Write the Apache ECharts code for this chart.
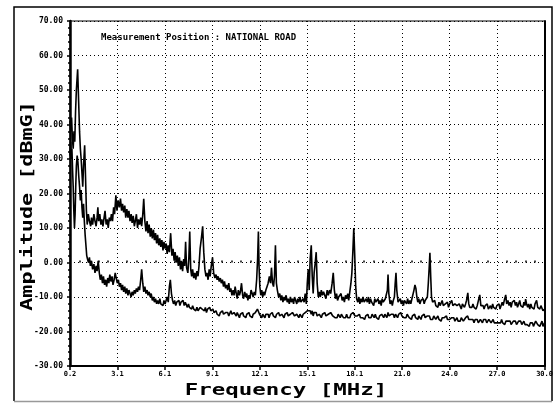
<!DOCTYPE html>
<html>
<head>
<meta charset="utf-8">
<script src="https://cdn.jsdelivr.net/npm/echarts@6/dist/echarts.min.js"></script>
<style>
  html, body { margin: 0; padding: 0; background: #fff; }
  #chart { width: 556px; height: 404px; }
</style>
</head>
<body>
<div id="chart"></div>
<script>
// Frequency axis ticks (MHz) and their printed labels
const xTickValues = [0.2, 3.18, 6.16, 9.14, 12.12, 15.1, 18.08, 21.06, 24.04, 27.02, 30.0];
const xTickLabels = ['0.2', '3.1', '6.1', '9.1', '12.1', '15.1', '18.1', '21.0', '24.0', '27.0', '30.0'];

// Amplitude axis range (dBmG)
const yMin = -30, yMax = 70, yStep = 10;

const titleText = 'Measurement Position : NATIONAL ROAD';
const xName = 'Frequency [MHz]';
const yName = 'Amplitude [dBmG]';

// Upper spectrum trace: [frequency MHz, amplitude dBmG]
const upperTrace = [
  [0.20,41],[0.25,38],[0.30,42],[0.35,36],[0.40,33],[0.45,38],[0.50,35],[0.55,44],[0.60,50],[0.68,56],
  [0.74,47],[0.80,38],[0.85,33],[0.90,30],[0.95,26],[1.00,22],[1.05,28],[1.12,34],[1.18,24],[1.23,15],
  [1.28,11],[1.35,14],[1.42,12],[1.50,10.5],[1.55,13],[1.62,11],[1.70,14],[1.77,12],[1.84,10.5],[1.90,13],
  [1.95,16],[2.00,12],[2.07,14],[2.14,11],[2.20,12.5],[2.27,10.5],[2.34,13],[2.40,15],[2.47,11],[2.54,12.5],
  [2.60,10],[2.67,13],[2.74,12],[2.80,14],[2.87,12],[2.94,16],[3.00,14],[3.08,19.5],[3.15,15],[3.22,18],
  [3.30,16],[3.37,18.5],[3.44,15],[3.50,17],[3.57,14.5],[3.64,16.5],[3.70,13],[3.77,15.5],[3.84,13],[3.90,15],
  [3.97,12],[4.04,14],[4.10,11.5],[4.17,13.5],[4.24,10.5],[4.30,12],[4.37,14],[4.44,10],[4.50,12.5],[4.57,11],
  [4.64,13],[4.70,10.5],[4.77,14],[4.83,18.5],[4.90,12],[4.97,9],[5.04,12],[5.10,8.5],[5.17,11],[5.24,7.5],
  [5.30,10],[5.37,7],[5.44,9.5],[5.50,6.5],[5.57,8.5],[5.64,5.5],[5.70,8],[5.77,5],[5.84,7],[5.90,4.5],
  [5.97,6.5],[6.04,3.5],[6.10,6],[6.17,4],[6.24,5.5],[6.30,2.5],[6.37,5],[6.44,3],[6.52,8.5],[6.60,2],
  [6.67,4],[6.74,0.5],[6.80,3],[6.87,0],[6.94,2],[7.00,-1],[7.07,1.5],[7.14,-2],[7.20,0.5],[7.27,-2.5],
  [7.34,1],[7.40,-1],[7.46,6],[7.52,-1.5],[7.60,-3],[7.66,1],[7.72,9],[7.78,-2],[7.84,-4],[7.90,-2],
  [7.97,-4.5],[8.04,-3],[8.10,-5],[8.17,-2.5],[8.24,-4],[8.30,-1],[8.37,4],[8.45,7],[8.53,10.5],[8.60,3],
  [8.67,-2],[8.74,-4],[8.80,-3],[8.87,-5],[8.94,-2],[9.00,-4],[9.07,-1],[9.15,1.5],[9.22,-3],[9.30,-4.5],
  [9.37,-3.5],[9.44,-5],[9.50,-4],[9.57,-5.5],[9.64,-4.5],[9.70,-6],[9.77,-5],[9.84,-7],[9.90,-5.5],[9.97,-7.5],
  [10.04,-6.5],[10.10,-8],[10.17,-6],[10.24,-8.5],[10.30,-7.5],[10.37,-9.5],[10.44,-8],[10.50,-9.5],[10.57,-7],[10.64,-9],
  [10.70,-10.5],[10.77,-8],[10.84,-9.5],[10.90,-8.5],[10.97,-6],[11.04,-9.5],[11.10,-10.5],[11.17,-8.5],[11.24,-10],[11.30,-9],
  [11.37,-11],[11.44,-9.5],[11.50,-10.5],[11.57,-8],[11.64,-9],[11.70,-10],[11.77,-8.5],[11.84,-9.5],[11.92,-5],[11.98,1],
  [12.03,9],[12.07,-1],[12.12,-7],[12.18,-9.5],[12.24,-8],[12.30,-10],[12.36,-8.5],[12.42,-9.5],[12.50,-8],[12.57,-7],
  [12.64,-6],[12.72,-4],[12.79,-6],[12.85,-1.5],[12.92,-6],[12.98,-7],[13.04,-4],[13.10,5],[13.16,-6],[13.22,-8],
  [13.30,-10],[13.37,-9],[13.44,-11],[13.50,-9.5],[13.57,-11.5],[13.64,-10],[13.70,-11],[13.77,-9.5],[13.84,-11.5],[13.90,-10.5],
  [13.97,-12],[14.04,-10],[14.10,-11.5],[14.17,-10.5],[14.24,-12],[14.30,-10],[14.37,-11],[14.44,-12],[14.50,-10.5],[14.57,-11.5],
  [14.64,-10],[14.70,-11.5],[14.77,-12],[14.84,-10.5],[14.90,-11.5],[14.97,-9],[15.04,-12],[15.10,-6],[15.16,-2],[15.22,-8],
  [15.28,1],[15.35,5],[15.41,-4],[15.47,-9],[15.53,-3],[15.60,0],[15.66,3],[15.72,-6],[15.79,-10],[15.85,-8.5],
  [15.92,-10],[15.98,-8],[16.05,-9.5],[16.12,-8.5],[16.20,-9],[16.27,-10.5],[16.35,-8],[16.42,-9.5],[16.50,-8],[16.57,-9],
  [16.66,-6],[16.73,-3],[16.80,-8],[16.87,-10.5],[16.94,-9],[17.00,-11],[17.07,-10],[17.14,-10.5],[17.22,-9],[17.29,-11],
  [17.36,-10],[17.43,-11.5],[17.50,-9.5],[17.57,-10.5],[17.64,-9],[17.70,-11],[17.77,-8.5],[17.84,-6],[17.90,-3],[17.96,3],
  [18.02,10],[18.08,2],[18.14,-7],[18.20,-10.5],[18.27,-11.5],[18.34,-10],[18.40,-12],[18.47,-10.5],[18.54,-11.5],[18.60,-10],
  [18.67,-11.5],[18.74,-12],[18.80,-10.5],[18.87,-11.5],[18.94,-10],[19.00,-12],[19.07,-10.5],[19.14,-11.5],[19.20,-11],[19.27,-12.5],
  [19.34,-10.5],[19.40,-11.5],[19.47,-12],[19.54,-10.5],[19.60,-12],[19.67,-11],[19.74,-12.5],[19.80,-10.5],[19.87,-11.5],[19.94,-12],
  [20.00,-10.5],[20.07,-11],[20.13,-8],[20.17,-3.5],[20.22,-9],[20.30,-12],[20.37,-11],[20.44,-12.5],[20.50,-11],[20.57,-10],
  [20.62,-6],[20.67,-3],[20.72,-8],[20.80,-11.5],[20.87,-12],[20.94,-10.5],[21.00,-12],[21.07,-11],[21.14,-12.5],[21.20,-11],
  [21.27,-11.5],[21.34,-12],[21.40,-10.5],[21.47,-12],[21.54,-11],[21.60,-12],[21.67,-10.5],[21.74,-11],[21.80,-8],[21.86,-6.5],
  [21.92,-7.5],[21.98,-10],[22.04,-11.5],[22.10,-10.5],[22.17,-12],[22.24,-11],[22.30,-11.5],[22.37,-10.5],[22.44,-12],[22.50,-11],
  [22.57,-11.5],[22.64,-10],[22.70,-6],[22.76,-1],[22.80,2.8],[22.85,-4],[22.90,-10],[22.97,-11.5],[23.04,-12],[23.10,-11],
  [23.17,-12.5],[23.24,-12],[23.30,-13],[23.37,-11.5],[23.44,-12.5],[23.50,-12],[23.57,-11],[23.64,-12.5],[23.70,-13],[23.77,-12],
  [23.84,-12.5],[23.90,-11.5],[23.97,-13],[24.04,-12],[24.10,-12.5],[24.17,-11],[24.24,-12.5],[24.30,-13],[24.37,-12],[24.44,-11.5],
  [24.50,-12.5],[24.57,-13],[24.64,-12],[24.70,-12.5],[24.77,-13.5],[24.84,-12],[24.90,-12.5],[24.97,-13],[25.04,-12],[25.10,-11],
  [25.18,-8.8],[25.24,-12],[25.30,-13],[25.37,-12.5],[25.44,-13],[25.50,-12],[25.57,-13],[25.64,-12.5],[25.70,-13.5],[25.77,-12.5],
  [25.84,-12],[25.93,-9.4],[26.00,-12.5],[26.07,-13],[26.14,-12.5],[26.20,-13.5],[26.27,-12.5],[26.34,-13],[26.40,-12],[26.47,-13.5],
  [26.54,-13],[26.60,-12.5],[26.67,-13.5],[26.74,-12],[26.80,-13],[26.87,-12.5],[26.94,-13.5],[27.00,-12.5],[27.07,-13],[27.14,-12],
  [27.20,-13.5],[27.27,-12.5],[27.34,-11.5],[27.40,-12.5],[27.47,-11],[27.56,-9.4],[27.62,-12],[27.70,-11],[27.77,-12.5],[27.84,-11.5],
  [27.90,-13],[27.97,-11.5],[28.04,-12],[28.10,-11],[28.17,-12.5],[28.24,-11.5],[28.30,-13],[28.37,-12],[28.44,-11],[28.50,-12.5],
  [28.57,-12],[28.64,-13],[28.70,-11.5],[28.77,-12.5],[28.81,-10.6],[28.87,-12],[28.94,-13],[29.00,-12],[29.07,-13.5],[29.14,-12],
  [29.20,-13],[29.27,-12.5],[29.34,-13.5],[29.40,-12],[29.50,-11],[29.57,-13],[29.64,-12.5],[29.70,-13.5],[29.77,-12.5],[29.84,-13],
  [29.90,-14],[29.97,-13.5],[30.00,-14]
];

// Lower spectrum trace: [frequency MHz, amplitude dBmG]
const lowerTrace = [
  [0.20,31],[0.24,35],[0.28,30],[0.32,33],[0.36,27],[0.40,22],[0.44,15],[0.48,10],[0.52,14],[0.56,22],
  [0.60,28],[0.65,31],[0.70,29],[0.75,25],[0.80,22],[0.85,18],[0.90,21],[0.95,16],[1.00,13],[1.05,17],
  [1.10,12],[1.15,8],[1.20,5],[1.25,2],[1.30,1],[1.36,0],[1.42,1.5],[1.48,-1],[1.55,0.5],[1.62,-2],
  [1.70,-0.5],[1.77,-3],[1.84,-1],[1.90,-2.5],[1.97,0.5],[2.04,-3],[2.10,-5],[2.17,-3.5],[2.24,-6],[2.30,-4],
  [2.37,-6.5],[2.44,-5],[2.50,-7],[2.57,-4.5],[2.64,-6],[2.70,-3.5],[2.77,-5.5],[2.84,-4],[2.90,-6.5],[2.97,-5],
  [3.04,-3],[3.10,-4.5],[3.17,-6],[3.24,-5],[3.30,-7],[3.37,-6],[3.44,-8],[3.50,-6.5],[3.57,-8.5],[3.64,-7],
  [3.70,-9],[3.77,-7.5],[3.84,-9.5],[3.90,-8],[3.97,-9],[4.04,-10],[4.10,-8.5],[4.17,-9.5],[4.24,-8],[4.30,-9],
  [4.37,-7.5],[4.44,-8.5],[4.50,-7],[4.57,-8],[4.64,-5],[4.70,-2],[4.77,-6],[4.83,-8.5],[4.90,-7],[4.97,-9],
  [5.04,-8],[5.10,-9.5],[5.17,-8.5],[5.24,-10],[5.30,-9],[5.37,-11],[5.44,-10],[5.50,-11.5],[5.57,-10.5],[5.64,-12],
  [5.70,-11],[5.77,-12],[5.84,-10.5],[5.90,-12],[5.97,-11.5],[6.04,-12.5],[6.10,-11],[6.17,-12],[6.24,-11.5],[6.30,-10],
  [6.37,-11.5],[6.44,-7],[6.50,-5],[6.57,-9],[6.64,-11],[6.70,-12],[6.77,-11],[6.84,-12.5],[6.90,-11.5],[6.97,-12],
  [7.04,-11],[7.10,-12.5],[7.17,-11.5],[7.24,-12],[7.30,-11],[7.37,-12.5],[7.44,-11.5],[7.50,-12],[7.57,-13],[7.64,-12],
  [7.70,-13],[7.77,-12.5],[7.84,-13.5],[7.90,-12.5],[7.97,-13.5],[8.04,-13],[8.10,-14],[8.17,-13],[8.24,-14],[8.30,-13.5],
  [8.37,-13],[8.44,-12.5],[8.50,-13.5],[8.57,-13],[8.64,-14],[8.70,-13],[8.77,-14.5],[8.84,-13.5],[8.90,-14],[8.97,-13],
  [9.04,-14],[9.10,-14.5],[9.17,-13.5],[9.24,-14.5],[9.30,-15],[9.37,-14],[9.44,-15],[9.50,-14.5],[9.57,-15.5],[9.64,-14.5],
  [9.70,-15],[9.77,-14],[9.84,-15],[9.90,-15.5],[9.97,-14.5],[10.04,-15],[10.10,-14.5],[10.17,-15.5],[10.24,-15],[10.30,-14],
  [10.37,-15],[10.44,-15.5],[10.50,-14.5],[10.57,-15],[10.64,-15.5],[10.70,-14.5],[10.77,-15],[10.84,-16],[10.90,-15],[10.97,-15.5],
  [11.04,-14.5],[11.10,-15.5],[11.17,-15],[11.24,-16],[11.30,-15],[11.37,-15.5],[11.44,-14.5],[11.50,-15.5],[11.57,-15],[11.64,-16],
  [11.70,-15],[11.77,-15.5],[11.84,-14.5],[11.90,-14],[11.97,-13.5],[12.03,-13.5],[12.10,-15],[12.17,-15.5],[12.24,-16],[12.30,-15],
  [12.37,-15.5],[12.44,-16],[12.50,-15],[12.57,-15.5],[12.64,-15],[12.70,-16],[12.77,-15],[12.84,-15.5],[12.90,-14.5],[12.97,-15.5],
  [13.04,-15],[13.10,-16],[13.17,-15],[13.24,-15.5],[13.30,-14.5],[13.37,-15.5],[13.44,-16],[13.50,-15],[13.57,-15.5],[13.64,-16],
  [13.70,-15],[13.77,-15.5],[13.84,-14.5],[13.90,-15.5],[13.97,-16],[14.04,-15],[14.10,-15.5],[14.17,-14.5],[14.24,-15],[14.30,-15.5],
  [14.37,-16],[14.44,-15],[14.50,-15.5],[14.57,-16],[14.64,-15],[14.70,-15.5],[14.77,-16],[14.84,-15],[14.90,-15.5],[14.97,-14.5],
  [15.04,-15],[15.10,-14],[15.16,-13.5],[15.22,-14.5],[15.28,-14],[15.35,-15],[15.41,-14],[15.47,-15.5],[15.53,-14.5],[15.60,-15],
  [15.66,-14.5],[15.72,-15.5],[15.79,-16],[15.85,-15],[15.92,-15.5],[15.98,-16],[16.05,-15],[16.12,-15.5],[16.20,-14.5],[16.27,-15.5],
  [16.35,-16],[16.42,-15],[16.50,-15.5],[16.57,-14.5],[16.64,-15],[16.70,-15.5],[16.77,-15],[16.84,-16],[16.90,-15.5],[16.97,-16],
  [17.04,-15],[17.10,-15.5],[17.17,-16],[17.24,-15],[17.30,-15.5],[17.37,-16],[17.44,-15.5],[17.50,-16],[17.57,-15],[17.64,-16],
  [17.70,-15.5],[17.77,-16],[17.84,-15],[17.90,-15.5],[17.97,-14.5],[18.04,-14],[18.10,-15.5],[18.17,-16],[18.24,-15.5],[18.30,-16],
  [18.37,-15],[18.44,-16],[18.50,-15.5],[18.57,-16],[18.64,-15.5],[18.70,-16.5],[18.77,-15.5],[18.84,-16],[18.90,-15],[18.97,-16],
  [19.04,-15.5],[19.10,-16],[19.17,-15],[19.24,-15.5],[19.30,-16],[19.37,-15],[19.44,-16],[19.50,-15.5],[19.57,-16.5],[19.64,-15.5],
  [19.70,-16],[19.77,-15],[19.84,-15.5],[19.90,-16],[19.97,-15],[20.04,-15.5],[20.10,-16],[20.17,-14.5],[20.24,-15.5],[20.30,-16],
  [20.37,-15],[20.44,-15.5],[20.50,-15],[20.57,-16],[20.64,-15],[20.70,-15.5],[20.77,-16],[20.84,-15],[20.90,-15.5],[20.97,-14.5],
  [21.04,-15.5],[21.10,-15],[21.17,-16],[21.24,-15.5],[21.30,-16],[21.37,-15],[21.44,-15.5],[21.50,-16],[21.57,-15.5],[21.64,-16.5],
  [21.70,-15.5],[21.77,-16],[21.84,-15],[21.90,-16],[21.97,-15.5],[22.04,-16.5],[22.10,-15.5],[22.17,-16],[22.24,-16.5],[22.30,-15.5],
  [22.37,-16],[22.44,-15],[22.50,-16],[22.57,-16.5],[22.64,-15.5],[22.70,-16],[22.77,-15.5],[22.84,-16.5],[22.90,-16],[22.97,-16.5],
  [23.04,-15.5],[23.10,-16],[23.17,-16.5],[23.24,-16],[23.30,-15.5],[23.37,-16.5],[23.44,-16],[23.50,-17],[23.57,-16],[23.64,-16.5],
  [23.70,-16],[23.77,-16.5],[23.84,-15.5],[23.90,-16.5],[23.97,-16],[24.04,-16.5],[24.10,-17],[24.17,-16],[24.24,-16.5],[24.30,-16],
  [24.37,-17],[24.44,-16.5],[24.50,-16],[24.57,-17],[24.64,-16.5],[24.70,-17],[24.77,-16],[24.84,-16.5],[24.90,-17],[24.97,-16.5],
  [25.04,-16],[25.10,-16.5],[25.17,-15.5],[25.24,-16.5],[25.30,-17],[25.37,-16.5],[25.44,-17],[25.50,-16.5],[25.57,-17.5],[25.64,-16.5],
  [25.70,-17],[25.77,-16.5],[25.84,-17.5],[25.90,-17],[25.97,-16.5],[26.04,-17],[26.10,-17.5],[26.17,-16.5],[26.24,-17],[26.30,-16.5],
  [26.37,-17.5],[26.44,-17],[26.50,-16.5],[26.57,-17],[26.64,-17.5],[26.70,-17],[26.77,-16.5],[26.84,-17.5],[26.90,-17],[26.97,-17.5],
  [27.04,-17],[27.10,-17.5],[27.17,-17],[27.24,-17.5],[27.30,-16.5],[27.37,-17.5],[27.44,-17],[27.50,-18],[27.57,-17],[27.64,-17.5],
  [27.70,-17],[27.77,-17.5],[27.84,-17],[27.90,-18],[27.97,-17.5],[28.04,-17],[28.10,-17.5],[28.17,-17],[28.24,-18],[28.30,-17.5],
  [28.37,-17],[28.44,-17.5],[28.50,-17],[28.57,-18],[28.64,-17.5],[28.70,-17],[28.77,-18],[28.84,-17.5],[28.90,-18],[28.97,-17.5],
  [29.04,-18.5],[29.10,-17.5],[29.17,-18],[29.24,-17.5],[29.30,-18.5],[29.37,-18],[29.44,-17],[29.50,-16.5],[29.57,-18],[29.64,-17.5],
  [29.70,-18.5],[29.77,-18],[29.84,-17],[29.90,-18.5],[29.97,-18],[30.00,-17.5]
];

// Minor tick positions: five subdivisions between each labelled frequency
const xMinorTicks = [];
for (let i = 0; i < xTickValues.length - 1; i++) {
  const a = xTickValues[i], b = xTickValues[i + 1];
  for (let k = 1; k < 5; k++) xMinorTicks.push(a + (b - a) * k / 5);
}

const chart = echarts.init(document.getElementById('chart'), null, { renderer: 'canvas' });

const labelFont = { color: '#000', fontWeight: 'bold', fontFamily: 'DejaVu Sans Mono' };
const dotted = { color: '#000', width: 1, type: [1, 3] };

chart.setOption({
  animation: false,
  backgroundColor: '#fff',
  title: {
    text: titleText,
    left: 101,
    top: 33,
    padding: 0,
    textStyle: { fontSize: 9, fontWeight: 'bold', fontFamily: 'DejaVu Sans Mono', color: '#000' }
  },
  grid: {
    left: 70, right: 10, top: 21, bottom: 38,
    show: true, borderColor: '#000', borderWidth: 1, backgroundColor: 'transparent'
  },
  xAxis: [
    {
      type: 'value',
      min: 0.2, max: 30.0,
      axisLine: { show: true, onZero: false, lineStyle: { color: '#000', width: 2 } },
      axisTick: { show: true, customValues: xTickValues, length: 4, lineStyle: { color: '#000', width: 1.5 } },
      axisLabel: {
        show: true,
        customValues: xTickValues,
        margin: 5,
        fontSize: 7,
        ...labelFont,
        formatter: function (v) {
          let best = 0;
          for (let i = 1; i < xTickValues.length; i++) {
            if (Math.abs(xTickValues[i] - v) < Math.abs(xTickValues[best] - v)) best = i;
          }
          return xTickLabels[best];
        }
      },
      splitLine: { show: true, lineStyle: dotted }
    },
    {
      // minor tick marks along the frequency axis
      type: 'value',
      position: 'bottom',
      min: 0.2, max: 30.0,
      axisLine: { show: false },
      axisTick: { show: true, inside: true, customValues: xMinorTicks, length: 2, lineStyle: { color: '#000', width: 1.5 } },
      axisLabel: { show: false },
      splitLine: { show: false }
    }
  ],
  yAxis: [
    {
      type: 'value',
      min: yMin, max: yMax, interval: yStep,
      axisLine: { show: true, onZero: false, lineStyle: { color: '#000', width: 2.5 } },
      axisTick: { show: true, length: 3, lineStyle: { color: '#000', width: 1.5 } },
      minorTick: { show: true, splitNumber: 5, length: 2, lineStyle: { color: '#000', width: 1.5 } },
      axisLabel: {
        margin: 7,
        fontSize: 8,
        ...labelFont,
        formatter: function (v) { return v.toFixed(2); }
      },
      splitLine: { show: true, lineStyle: dotted }
    },
    {
      type: 'value',
      position: 'right',
      min: yMin, max: yMax, interval: yStep,
      axisLine: { show: true, onZero: false, lineStyle: { color: '#000', width: 2 } },
      axisTick: { show: false },
      axisLabel: { show: false },
      splitLine: { show: false }
    }
  ],
  graphic: [
    {
      // outer frame: dark on three sides, faint along the bottom
      type: 'polyline',
      silent: true,
      shape: { points: [[14, 401], [14, 7], [552, 7], [552, 401]] },
      style: { fill: 'none', stroke: '#000', lineWidth: 1.5 }
    },
    {
      type: 'line',
      silent: true,
      shape: { x1: 14, y1: 401.5, x2: 552, y2: 401.5 },
      style: { stroke: '#999', lineWidth: 1.5 }
    },
    {
      type: 'text',
      silent: true,
      x: 286, y: 391,
      scaleX: 1.4,
      style: {
        text: xName, fill: '#000', fontSize: 16, fontWeight: 'bold',
        fontFamily: 'DejaVu Sans Mono', align: 'center', verticalAlign: 'middle'
      }
    },
    {
      type: 'text',
      silent: true,
      x: 28, y: 206,
      rotation: Math.PI / 2,
      scaleX: 1.36,
      style: {
        text: yName, fill: '#000', fontSize: 16, fontWeight: 'bold',
        fontFamily: 'DejaVu Sans Mono', align: 'center', verticalAlign: 'middle'
      }
    }
  ],
  series: [
    {
      name: 'upper',
      type: 'line',
      xAxisIndex: 0, yAxisIndex: 0,
      data: upperTrace,
      showSymbol: false, symbol: 'none',
      lineStyle: { color: '#000', width: 1.6 },
      z: 3
    },
    {
      name: 'lower',
      type: 'line',
      xAxisIndex: 0, yAxisIndex: 0,
      data: lowerTrace,
      showSymbol: false, symbol: 'none',
      lineStyle: { color: '#000', width: 1.6 },
      z: 3
    }
  ]
});
</script>
</body>
</html>
